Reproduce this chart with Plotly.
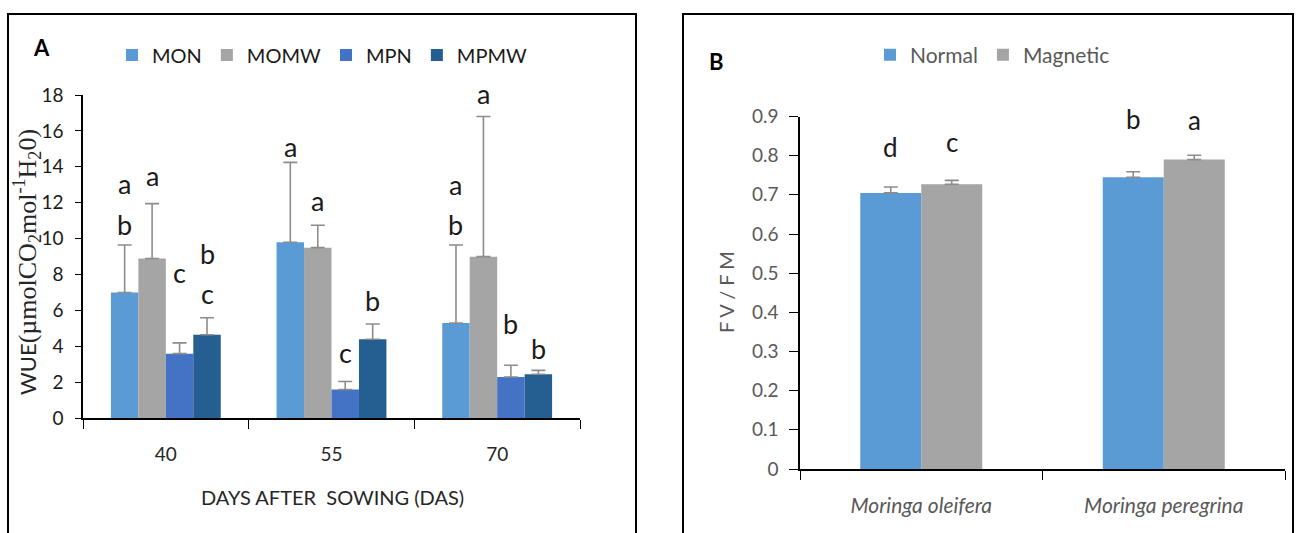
import plotly.graph_objects as go

W, H = 1296, 533

# ---------------- data: panel A ----------------
days = ["40", "55", "70"]
series_a = ["MON", "MOMW", "MPN", "MPMW"]
mon = [7.0, 9.8, 5.3]
mon_err = [2.65, 4.45, 4.35]
momw = [8.9, 9.5, 9.0]
momw_err = [3.05, 1.25, 7.8]
mpn = [3.6, 1.6, 2.3]
mpn_err = [0.6, 0.45, 0.65]
mpmw = [4.65, 4.4, 2.45]
mpmw_err = [0.95, 0.85, 0.22]
# significance letters (lowest first when stacked)
mon_letters = [["b", "a"], ["a"], ["b", "a"]]
momw_letters = [["a"], ["a"], ["a"]]
mpn_letters = [["c"], ["c"], ["b"]]
mpmw_letters = [["c", "b"], ["b"], ["b"]]

# ---------------- data: panel B ----------------
species = ["Moringa oleifera", "Moringa peregrina"]
series_b = ["Normal", "Magnetic"]
normal = [0.705, 0.745]
normal_err = [0.015, 0.014]
magnetic = [0.727, 0.79]
magnetic_err = [0.01, 0.011]
normal_letters = [["d"], ["b"]]
magnetic_letters = [["c"], ["a"]]

# ---------------- styles ----------------
colors_a = ["#5B9BD5", "#A5A5A5", "#4472C4", "#255E91"]
colors_b = ["#5B9BD5", "#A5A5A5"]
# pixel offsets of letters above the error caps
off_a = [[[20, 61], [16], [20, 60]],
         [[28], [25], [23]],
         [[70], [29], [42]],
         [[24, 64], [24], [22]]]
off_b = [[[40], [53]], [[38], [35]]]
FONT = "Lato, 'Open Sans', sans-serif"
bargap_a = 0.337
bargap_b = 0.497

def px(x):
    return x / W

def py(y):
    return 1 - y / H

fig = go.Figure()

vals_a = [mon, momw, mpn, mpmw]
errs_a = [mon_err, momw_err, mpn_err, mpmw_err]
lets_a = [mon_letters, momw_letters, mpn_letters, mpmw_letters]
for name, v, e, c in zip(series_a, vals_a, errs_a, colors_a):
    fig.add_trace(go.Bar(
        x=days, y=v, name=name, marker=dict(color=c, line=dict(width=0)),
        error_y=dict(type="data", symmetric=False, array=e, arrayminus=[0] * len(e),
                     color="#8c8c8c", thickness=1.6, width=7),
        xaxis="x", yaxis="y", legend="legend"))

vals_b = [normal, magnetic]
errs_b = [normal_err, magnetic_err]
lets_b = [normal_letters, magnetic_letters]
bw_b = (1 - bargap_b) / len(vals_b)
for k, (name, v, e, c) in enumerate(zip(series_b, vals_b, errs_b, colors_b)):
    fig.add_trace(go.Bar(
        x=species, y=v, name=name, marker=dict(color=c, line=dict(width=0)),
        width=bw_b, offset=-(1 - bargap_b) / 2 + k * bw_b,
        error_y=dict(type="data", symmetric=False, array=e, arrayminus=[0] * len(e),
                     color="#8c8c8c", thickness=1.6, width=7),
        xaxis="x2", yaxis="y2", legend="legend2"))

annotations = []

def add_letters(vals, errs, lets, offs, bargap, xref, yref, size):
    n = len(vals)
    bw = (1 - bargap) / n
    for s in range(n):
        for i in range(len(vals[s])):
            xc = i - (1 - bargap) / 2 + bw * (s + 0.5)
            top = vals[s][i] + errs[s][i]
            for letter, o in zip(lets[s][i], offs[s][i]):
                annotations.append(dict(
                    x=xc, y=top, xref=xref, yref=yref, text=letter, showarrow=False,
                    xanchor="center", yanchor="middle", yshift=o,
                    font=dict(family=FONT, size=size, color="#1a1a1a")))

add_letters(vals_a, errs_a, lets_a, off_a, bargap_a, "x", "y", 27)
add_letters(vals_b, errs_b, lets_b, off_b, bargap_b, "x2", "y2", 26)

def paper_text(x, y, text, size, color, angle=0, family=FONT):
    return dict(x=px(x), y=py(y), xref="paper", yref="paper", text=text, showarrow=False,
                xanchor="center", yanchor="middle", textangle=angle,
                font=dict(family=family, size=size, color=color))

annotations += [
    paper_text(41, 47, "<b>A</b>", 22, "#000"),
    paper_text(716, 62, "<b>B</b>", 22, "#000"),
    paper_text(332, 497, "DAYS AFTER  SOWING (DAS)", 20, "#262626"),
    paper_text(27, 262,
               "<span style='font-size:22px'>WUE</span><span style='font-family:Liberation Serif, serif'>(µmolCO<sub>2</sub>mol<sup>-1</sup>H<sub>2</sub>0)</span>",
               26, "#262626", angle=-90),
    paper_text(726, 292, "F V / F M", 20, "#595959", angle=-90),
]

shapes = [
    dict(type="rect", xref="paper", yref="paper", x0=px(8), x1=px(636), y0=-0.05, y1=py(14),
         line=dict(color="#000", width=2)),
    dict(type="rect", xref="paper", yref="paper", x0=px(683), x1=px(1293), y0=-0.05, y1=py(14),
         line=dict(color="#000", width=2)),
]

axis_common = dict(showgrid=False, zeroline=False, showline=True, linecolor="#000",
                   linewidth=1.5, ticks="outside", tickcolor="#000", tickwidth=1.3,
                   automargin=False)

fig.update_layout(
    template="none",
    width=W, height=H, margin=dict(l=0, r=0, t=0, b=0, pad=0, autoexpand=False),
    paper_bgcolor="white", plot_bgcolor="white",
    barmode="group", bargap=bargap_a,
    showlegend=True,
    font=dict(family=FONT),
    xaxis=dict(domain=[px(83), px(580)], anchor="y", type="category", tickson="boundaries",
               ticklen=9, ticklabelstandoff=18,
               tickfont=dict(family=FONT, size=19, color="#262626"), **axis_common),
    yaxis=dict(domain=[py(418.3), py(95)], anchor="x", range=[0, 18], dtick=2, ticklen=6,
               ticklabelstandoff=8,
               tickfont=dict(family=FONT, size=19, color="#1a1a1a"), **axis_common),
    xaxis2=dict(domain=[px(800), px(1285)], anchor="y2", type="category", tickson="boundaries",
                ticklen=9, ticklabelstandoff=17,
                tickfont=dict(family=FONT, size=21, color="#595959", style="italic"), **axis_common),
    yaxis2=dict(domain=[py(469), py(116.5)], anchor="x2", range=[0, 0.9], dtick=0.1, ticklen=9,
                ticklabelstandoff=7,
                tickfont=dict(family=FONT, size=19, color="#595959"), **axis_common),
    legend=dict(orientation="h", x=px(112), y=py(55), xanchor="left", yanchor="middle",
                font=dict(family=FONT, size=20, color="#1a1a1a"), bgcolor="rgba(0,0,0,0)",
                itemwidth=30),
    legend2=dict(orientation="h", x=px(870), y=py(55), xanchor="left", yanchor="middle",
                 font=dict(family=FONT, size=21, color="#595959"), bgcolor="rgba(0,0,0,0)",
                 itemwidth=30),
    annotations=annotations,
    shapes=shapes,
)

fig.write_html("out.html", config={"displayModeBar": False},
               post_script="document.body.style.margin='0';document.body.style.overflow='hidden';")
